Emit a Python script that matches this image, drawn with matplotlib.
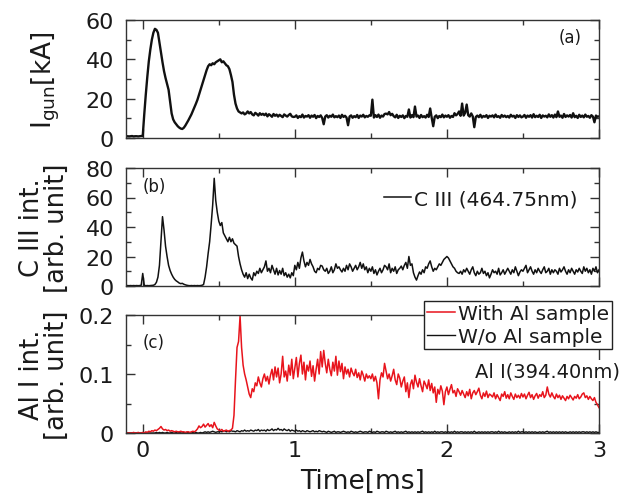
import numpy as np
import matplotlib
matplotlib.use('Agg')
import matplotlib.pyplot as plt
from matplotlib.ticker import MultipleLocator, FuncFormatter

plt.rcParams['font.family'] = ['DejaVu Sans']
plt.rcParams['mathtext.fontset'] = 'dejavusans'

# sampling times (ms), 0.01 ms step
time_ms = np.round(np.arange(-0.11, 3.0001, 0.01), 2)

# (a) gun current [kA]
i_gun = [
    0.8, 0.9, 0.8, 0.9, 1.0, 0.8, 0.9, 0.9, 0.8, 0.9, 1.0,
    1.0, 12, 22, 31, 39, 45, 50, 53.5, 55.5, 55,
    53.5, 48.5, 43.5, 38.5, 34, 30.5, 27.5, 24.5, 18.5, 12.5,
    9.5, 8, 7, 6, 5.3, 4.8, 4.6, 5.2, 6.3, 7.6,
    9, 10.5, 12, 13.8, 15.5, 17.5, 19.5, 22, 24.5, 27,
    29.5, 32, 34.5, 36.5, 37.5, 37, 38, 37.5, 38.5, 39,
    39.5, 40, 38.5, 39, 38, 37, 36.5, 35, 32, 28.5,
    22, 17.5, 15, 13.5, 13, 12.5, 13, 12, 12.5, 13.5,
    12.5, 13.2, 12, 11.5, 12.8, 12.2, 11.4, 12.6, 11.8, 12.3,
    11.6, 12.4, 11, 12.1, 11.5, 10.8, 12.2, 11.3, 11.9, 10.9,
    11.8, 11.2, 10.6, 12, 11.4, 10.9, 11.7, 12.3, 11, 10.7,
    10.8, 11.5, 10.2, 11.1, 10.6, 11.9, 10.4, 11.2, 10.9, 11.6,
    10.3, 11.4, 10.8, 11.7, 10.1, 11.2, 10.7, 11.5, 10.2, 7.0,
    10.9, 11.6, 10.4, 11.3, 10.8, 11.9, 10.5, 11.1, 10.6, 11.4,
    10.2, 11.8, 10.7, 11.3, 10.4, 6.5, 10.9, 11.5, 10.3, 11.1,
    10.6, 11.7, 10.2, 11.4, 10.9, 11.8, 10.5, 11.2, 10.8, 11.5,
    11.3, 19.5, 10.4, 11.6, 10.7, 11.9, 10.3, 11.4, 10.9, 12.2,
    12.4, 12.0, 13.2, 11.6, 12.3, 11.1, 10.5, 11.8, 10.2, 11.3,
    10.7, 11.5, 10.1, 11.2, 10.8, 14.5, 10.4, 11.6, 10.6, 16.0,
    10.9, 11.4, 10.2, 11.7, 10.6, 11.1, 10.4, 11.8, 10.7, 15.0,
    10.3, 6.0, 10.8, 11.5, 10.1, 11.2, 10.6, 11.9, 10.5, 11.4,
    10.8, 11.6, 10.3, 11.2, 10.7, 12.6, 11.5, 12.2, 13.5, 11.3,
    17.5, 11.4, 12.8, 17.0, 11.6, 10.9, 12.5, 11.0, 5.5, 10.7,
    11.4, 10.6, 11.8, 10.4, 11.2, 10.8, 11.6, 10.2, 11.3, 10.9,
    11.5, 10.5, 11.9, 10.7, 11.1, 10.3, 11.7, 10.8, 11.4, 10.6,
    11.2, 10.4, 11.8, 10.9, 11.3, 10.2, 11.6, 10.7, 11.5, 10.5,
    10.9, 11.7, 10.3, 11.4, 10.8, 11.6, 10.4, 12.1, 10.6, 11.3,
    10.7, 11.8, 10.2, 11.5, 10.9, 11.3, 10.5, 12.0, 10.8, 11.6,
    10.4, 11.9, 10.6, 13.5, 10.8, 11.4, 10.3, 12.2, 10.7, 11.5,
    10.9, 11.7, 10.4, 12.6, 10.6, 11.3, 10.2, 11.8, 10.7, 11.4,
    10.5, 11.9, 10.8, 11.2, 10.3, 11.6, 10.9, 8.0, 11.4, 10.8,
    11.0,
]

# (b) C III (464.75 nm) intensity [arb. unit]
c3_int = [
    0.2, 0.3, 0.2, 0.3, 0.2, 0.3, 0.2, 0.3, 0.2, 0.3, 0.5,
    8.5, 0.5, 0.2, 0.3, 0.2, 0.3, 0.4, 0.5, 1.0, 2.5,
    6, 14, 30, 47, 38, 27, 20, 14, 10.5, 8,
    6, 4.5, 3.5, 2.8, 2.0, 1.6, 1.8, 1.2, 0.8, 0.5,
    0.3, 0.2, 0.3, 0.2, 0.3, 0.2, 0.3, 0.2, 0.3, 0.5,
    1, 6, 13, 22, 30, 42, 55, 73, 58, 50,
    44, 41, 43, 36, 34, 32, 30, 33, 30, 32,
    29, 28, 27, 20, 15, 11, 8, 6, 9, 5,
    8, 5.5, 4, 9, 7, 10, 8.5, 12, 9, 11,
    13, 17, 10, 12, 9, 14, 11, 8, 12, 7.5,
    10.5, 8, 12, 7, 9, 6, 8, 5.5, 9, 7,
    14, 11, 16, 12, 19, 23, 17, 13, 16, 14,
    18, 15, 13, 10, 9, 12, 11, 14, 13.5, 11,
    10, 12, 8.5, 10, 13, 9, 11, 15, 12, 13,
    11, 9.5, 12, 10, 14, 11, 15, 13, 10, 12,
    14, 11, 13, 16, 12, 15, 11, 13, 9, 12,
    10, 13, 8.5, 11, 7.5, 10, 12, 9, 11, 14,
    13, 11, 15, 9, 12, 10, 13, 8.5, 11, 12,
    13.5, 11, 14, 16, 12, 20, 14, 15, 9, 6,
    4, 7, 9.5, 8, 11, 9, 13, 12, 15, 17,
    13, 10, 12, 11, 13, 15, 14, 16, 18, 19,
    20, 19, 17, 15, 13, 12, 10, 9, 8.5, 10,
    8, 11, 9.5, 12, 10, 8, 11, 13, 9, 7,
    10, 8, 9, 12, 8.5, 10, 7, 9, 5.5, 8,
    11, 9, 10, 8, 12, 7.5, 9, 11, 8, 10,
    12, 10, 8, 11, 9, 13, 10, 7, 9.5, 11,
    10, 12, 14, 9, 11, 13, 10, 8, 11, 9,
    12, 10, 8.5, 11, 13, 9, 10, 12, 8, 11,
    9, 11, 10, 8, 12, 9.5, 11, 13, 10, 8,
    11, 9, 12, 10, 8, 11, 9.5, 12, 10, 8.5,
    13, 10, 12, 9, 11, 8, 12, 10, 13, 9,
    11,
]

# (c) Al I (394.40 nm) intensity [arb. unit]
al_with = [
    0, 0, 0, 0, 0, 0.001, 0, 0, 0.001, 0, 0,
    0.001, 0.0, 0.002, 0.001, 0.003, 0.002, 0.004, 0.003, 0.005, 0.004,
    0.006, 0.008, 0.011, 0.007, 0.005, 0.006, 0.004, 0.005, 0.003, 0.004,
    0.003, 0.002, 0.003, 0.002, 0.002, 0.003, 0.002, 0.002, 0.001, 0.002,
    0.002, 0.001, 0.002, 0.003, 0.002, 0.004, 0.007, 0.012, 0.009, 0.011,
    0.015, 0.010, 0.013, 0.016, 0.011, 0.014, 0.009, 0.018, 0.012, 0.007,
    0.005, 0.004, 0.006, 0.003, 0.004, 0.005, 0.003, 0.004, 0.005, 0.008,
    0.03, 0.09, 0.145, 0.155, 0.198, 0.145, 0.115, 0.1, 0.09, 0.078,
    0.066, 0.06, 0.075, 0.07, 0.085, 0.08, 0.095, 0.085, 0.078, 0.092,
    0.1, 0.088, 0.096, 0.083, 0.098, 0.108, 0.09, 0.112, 0.095, 0.11,
    0.085, 0.1, 0.13, 0.095, 0.105, 0.088, 0.115, 0.098, 0.125, 0.092,
    0.11, 0.128, 0.095, 0.118, 0.132, 0.1, 0.12, 0.09, 0.115, 0.105,
    0.122, 0.096, 0.114, 0.088, 0.108, 0.125, 0.1, 0.138, 0.112, 0.14,
    0.118, 0.102, 0.125, 0.108, 0.097, 0.12, 0.105, 0.13, 0.098, 0.122,
    0.104, 0.118, 0.092, 0.112, 0.1, 0.108, 0.095, 0.11, 0.102, 0.097,
    0.108, 0.094, 0.102, 0.09, 0.105, 0.098, 0.088, 0.1, 0.093, 0.097,
    0.092, 0.1, 0.088, 0.096, 0.085, 0.058, 0.09, 0.102, 0.095, 0.118,
    0.105, 0.092, 0.1, 0.088, 0.097, 0.108, 0.09, 0.082, 0.1, 0.093,
    0.078, 0.088, 0.095, 0.07, 0.085, 0.06, 0.082, 0.09, 0.075, 0.098,
    0.086, 0.078, 0.092, 0.08, 0.07, 0.088, 0.082, 0.075, 0.09, 0.072,
    0.084, 0.068, 0.078, 0.052, 0.074, 0.066, 0.08, 0.071, 0.048, 0.07,
    0.078, 0.065, 0.074, 0.082, 0.068, 0.072, 0.062, 0.075, 0.07, 0.064,
    0.072, 0.066, 0.06, 0.07, 0.063, 0.074, 0.058, 0.068, 0.072, 0.065,
    0.07, 0.076, 0.064, 0.058, 0.068, 0.062, 0.071, 0.06, 0.066, 0.064,
    0.061, 0.068, 0.058, 0.065, 0.06, 0.055, 0.066, 0.062, 0.07, 0.059,
    0.065, 0.058, 0.068, 0.062, 0.057, 0.066, 0.06, 0.064, 0.059, 0.067,
    0.061, 0.066, 0.058, 0.064, 0.069, 0.06, 0.065, 0.057, 0.063, 0.067,
    0.059, 0.065, 0.062, 0.07, 0.06, 0.064, 0.078, 0.066, 0.061, 0.068,
    0.062, 0.058, 0.066, 0.06, 0.064, 0.057, 0.063, 0.059, 0.055, 0.062,
    0.058, 0.064, 0.06, 0.056, 0.062, 0.059, 0.065, 0.058, 0.061, 0.066,
    0.068, 0.06, 0.063, 0.057, 0.062, 0.058, 0.055, 0.06, 0.052, 0.048,
    0.043,
]

al_without = [
    0, 0, 0, 0, 0, 0, 0, 0, 0, 0, 0,
    0, 0, 0, 0, 0, 0, 0, 0, 0, 0.001,
    0, 0.001, 0, 0.001, 0, 0, 0.001, 0, 0, 0.001,
    0, 0, 0.001, 0, 0.001, 0, 0, 0.001, 0, 0,
    0.001, 0, 0, 0.001, 0, 0.001, 0, 0, 0.001, 0,
    0.001, 0.002, 0.001, 0.002, 0.001, 0.002, 0.003, 0.002, 0.001, 0.002,
    0.002, 0.003, 0.002, 0.003, 0.004, 0.002, 0.003, 0.002, 0.004, 0.003,
    0.003, 0.002, 0.004, 0.003, 0.002, 0.004, 0.003, 0.005, 0.003, 0.004,
    0.003, 0.005, 0.004, 0.003, 0.005, 0.004, 0.006, 0.003, 0.005, 0.004,
    0.005, 0.003, 0.006, 0.004, 0.005, 0.007, 0.004, 0.006, 0.005, 0.008,
    0.005, 0.006, 0.004, 0.007, 0.005, 0.004, 0.006, 0.003, 0.005, 0.004,
    0.003, 0.005, 0.003, 0.004, 0.002, 0.004, 0.003, 0.002, 0.004, 0.003,
    0.002, 0.003, 0.004, 0.002, 0.003, 0.002, 0.004, 0.003, 0.002, 0.003,
    0.002, 0.001, 0.003, 0.002, 0.001, 0.002, 0.003, 0.001, 0.002, 0.002,
    0.001, 0.002, 0.003, 0.002, 0.001, 0.002, 0.001, 0.003, 0.002, 0.001,
    0.002, 0.001, 0.002, 0.003, 0.002, 0.001, 0.002, 0.002, 0.001, 0.003,
    0.002, 0.001, 0.002, 0.001, 0.003, 0.002, 0.001, 0.002, 0.002, 0.001,
    0.003, 0.002, 0.001, 0.002, 0.001, 0.002, 0.003, 0.001, 0.002, 0.001,
    0.002, 0.001, 0.002, 0.003, 0.001, 0.002, 0.001, 0.002, 0.001, 0.002,
    0.001, 0.002, 0.001, 0.002, 0.003, 0.001, 0.002, 0.001, 0.002, 0.001,
    0.002, 0.001, 0.003, 0.001, 0.002, 0.001, 0.002, 0.002, 0.001, 0.002,
    0.001, 0.002, 0.001, 0.002, 0.001, 0.003, 0.001, 0.002, 0.001, 0.002,
    0.002, 0.001, 0.002, 0.001, 0.002, 0.001, 0.002, 0.001, 0.003, 0.001,
    0.001, 0.002, 0.001, 0.002, 0.001, 0.002, 0.001, 0.002, 0.001, 0.002,
    0.002, 0.001, 0.002, 0.001, 0.003, 0.001, 0.002, 0.001, 0.002, 0.001,
    0.001, 0.002, 0.001, 0.002, 0.001, 0.002, 0.001, 0.003, 0.001, 0.002,
    0.002, 0.001, 0.002, 0.001, 0.002, 0.001, 0.002, 0.001, 0.002, 0.001,
    0.001, 0.002, 0.001, 0.002, 0.001, 0.002, 0.003, 0.001, 0.002, 0.001,
    0.002, 0.001, 0.002, 0.001, 0.002, 0.001, 0.002, 0.001, 0.002, 0.001,
    0.001, 0.002, 0.001, 0.002, 0.001, 0.002, 0.001, 0.002, 0.001, 0.002,
    0.002, 0.001, 0.002, 0.001, 0.002, 0.001, 0.002, 0.001, 0.002, 0.001,
    0.001,
]

x_ticks = [0, 1, 2, 3]
x_ticklabels = ['0', '1', '2', '3']

TXT = '#1a1a1a'
SP = '#333333'
RED = '#e8141c'

fig = plt.figure(figsize=(6.22, 5.02), dpi=100)
L, W = 126 / 622, 473 / 622


def ax_at(top_px, bot_px):
    return fig.add_axes([L, 1 - bot_px / 502, W, (bot_px - top_px) / 502])


ax1 = ax_at(21, 139)
ax2 = ax_at(169, 287)
ax3 = ax_at(316, 434)

for ax in (ax1, ax2, ax3):
    ax.set_xlim(-0.11, 3.0)
    ax.set_xticks(x_ticks)
    ax.xaxis.set_minor_locator(MultipleLocator(0.5))
    for s in ax.spines.values():
        s.set_color(SP)
        s.set_linewidth(1.0)
    ax.tick_params(which='both', direction='in', top=True, right=True,
                   color=SP, width=1.0, labelsize=16, labelcolor=TXT)
    ax.tick_params(which='major', length=6.5, pad=8.5)
    ax.tick_params(which='minor', length=3.5)
    ax.tick_params(axis='x', which='major', pad=5)

ax1.tick_params(axis='x', labelbottom=False)
ax2.tick_params(axis='x', labelbottom=False)
ax3.set_xticklabels(x_ticklabels)

# (a)
ax1.plot(time_ms, i_gun, color='#111111', lw=1.7)
ax1.set_ylim(0, 60)
ax1.yaxis.set_major_locator(MultipleLocator(20))
ax1.yaxis.set_minor_locator(MultipleLocator(10))
ax1.set_ylabel(r'I$_{\mathrm{gun}}$[kA]', fontsize=19, color=TXT)
ax1.yaxis.set_label_coords(-0.135, 0.5)
ax1.text(0.939, 0.858, '(a)', transform=ax1.transAxes, fontsize=12,
         color=TXT, ha='center', va='center')

# (b)
ax2.plot(time_ms, c3_int, color='#111111', lw=1.1, label='C III (464.75nm)')
ax2.set_ylim(0, 80)
ax2.yaxis.set_major_locator(MultipleLocator(20))
ax2.yaxis.set_minor_locator(MultipleLocator(10))
ax2.set_ylabel('C III int.\n[arb. unit]', fontsize=18.5, color=TXT,
               linespacing=0.95)
ax2.yaxis.set_label_coords(-0.118, 0.5)
ax2.text(0.06, 0.85, '(b)', transform=ax2.transAxes, fontsize=12,
         color=TXT, ha='center', va='center')
leg2 = ax2.legend(loc='center left', bbox_to_anchor=(0.545, 0.737),
                  frameon=False, fontsize=14.5, handlelength=1.35,
                  handletextpad=0.15, borderpad=0, borderaxespad=0)
for t in leg2.get_texts():
    t.set_color(TXT)

# (c)
ax3.plot(time_ms, al_without, color='#111111', lw=1.0, label='W/o Al sample')
ax3.plot(time_ms, al_with, color=RED, lw=1.1, label='With Al sample')
ax3.set_ylim(0, 0.2)
ax3.yaxis.set_major_locator(MultipleLocator(0.1))
ax3.yaxis.set_minor_locator(MultipleLocator(0.05))
ax3.yaxis.set_major_formatter(FuncFormatter(lambda v, p: '0' if abs(v) < 1e-9 else f'{v:.1f}'))
ax3.set_ylabel('Al I int.\n[arb. unit]', fontsize=18.5, color=TXT,
               linespacing=0.95)
ax3.yaxis.set_label_coords(-0.118, 0.5)
ax3.set_xlabel('Time[ms]', fontsize=19, color=TXT, labelpad=6)
ax3.text(0.059, 0.771, '(c)', transform=ax3.transAxes, fontsize=12,
         color=TXT, ha='center', va='center')
ax3.text(1.044, 0.528, 'Al I(394.40nm)', transform=ax3.transAxes,
         fontsize=14, color=TXT, ha='right', va='center', clip_on=False,
         zorder=5, bbox=dict(facecolor='white', edgecolor='none', pad=0.5))
h, lab = ax3.get_legend_handles_labels()
leg3 = ax3.legend([h[1], h[0]], [lab[1], lab[0]], loc='upper right',
                  bbox_to_anchor=(1.0275, 1.119), fontsize=14.5,
                  handlelength=1.4, handletextpad=0.15, borderpad=0.15,
                  borderaxespad=0, labelspacing=0.2, fancybox=False,
                  framealpha=1, edgecolor='#222222')
leg3.get_frame().set_linewidth(1.0)
leg3.set_zorder(6)
for t in leg3.get_texts():
    t.set_color(TXT)

fig.savefig('out.png', dpi=100)
